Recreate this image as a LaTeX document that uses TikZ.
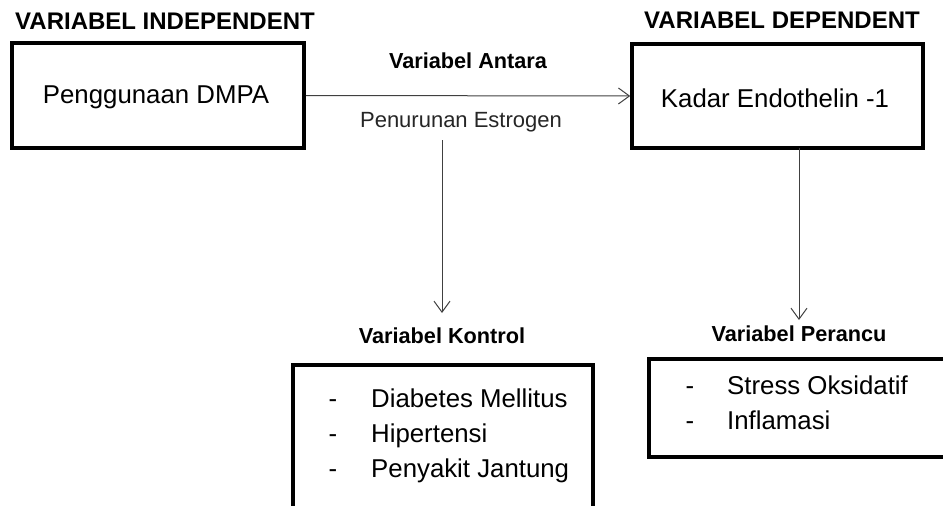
\documentclass[tikz,border=0pt]{standalone}
\usepackage{fontspec}
\setmainfont{Liberation Sans}
\usetikzlibrary{arrows.meta}
\begin{document}
\begin{tikzpicture}[x=1pt,y=-1pt,
  mainbox/.style={draw,line width=3.5pt,inner sep=0pt},
  title/.style={font=\bfseries\fontsize{24}{28}\selectfont,inner sep=0pt,anchor=base},
  lab/.style={font=\bfseries\fontsize{21.7}{25}\selectfont,inner sep=0pt,anchor=base},
  txt/.style={font=\fontsize{25.8}{30}\selectfont,inner sep=0pt,anchor=base},
  item/.style={txt,anchor=base west},
  sub/.style={font=\fontsize{22}{26}\selectfont,inner sep=0pt,anchor=base,text=black!85},
  conn/.style={draw=black!75,line width=1pt,-{Straight Barb[length=11pt,width=16pt,line width=1pt]}}]
\useasboundingbox (0,0) rectangle (943,506);
\clip (0,0) rectangle (943,506);
% titles
\node[title] (t1) at (165,29) {VARIABEL INDEPENDENT};
\node[title] (t2) at (782,28) {VARIABEL DEPENDENT};
% main boxes
\node[mainbox,minimum width=292pt,minimum height=105pt] (b1) at (158,95.5) {};
\node[txt] (b1t) at (156,103) {Penggunaan DMPA};
\node[mainbox,minimum width=291pt,minimum height=104pt] (b2) at (777.5,96) {};
\node[txt] (b2t) at (775,107) {Kadar Endothelin -1};
% antara
\node[lab] (ant) at (468,68) {Variabel Antara};
\node[sub] (est) at (461,127) {Penurunan Estrogen};
\draw[conn] (b1.east) -- (b2.west);
% kontrol
\node[lab] (kon) at (442,343) {Variabel Kontrol};
\coordinate (k1) at (442,140);
\coordinate (k2) at (442,313);
\draw[conn] (k1) -- (k2);
\node[mainbox,minimum width=300pt,minimum height=150pt] (b3) at (443,440) {};
\node[txt] (d1) at (333,407) {-};
\node[item] (i1) at (371,407) {Diabetes Mellitus};
\node[txt] (d2) at (333,442) {-};
\node[item] (i2) at (371,442) {Hipertensi};
\node[txt] (d3) at (333,477) {-};
\node[item] (i3) at (371,477) {Penyakit Jantung};
% perancu
\node[lab] (per) at (799,341) {Variabel Perancu};
\coordinate (p1) at (799,148);
\coordinate (p2) at (799,320);
\draw[conn] (p1) -- (p2);
\node[mainbox,minimum width=310pt,minimum height=98pt] (b4) at (804,408) {};
\node[txt] (e1) at (690,394) {-};
\node[item] (j1) at (727,394) {Stress Oksidatif};
\node[txt] (e2) at (690,429) {-};
\node[item] (j2) at (727,429) {Inflamasi};
\end{tikzpicture}
\end{document}
